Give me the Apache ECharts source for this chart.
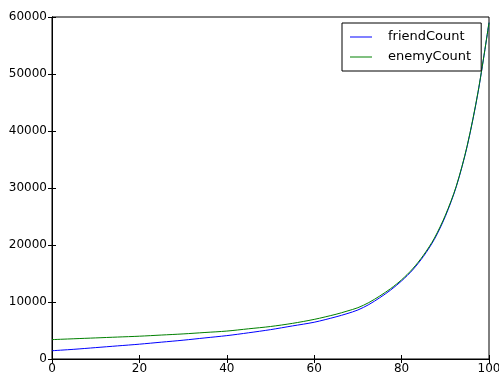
<!DOCTYPE html>
<html>
<head>
<meta charset="utf-8">
<script src="https://cdn.jsdelivr.net/npm/echarts@6/dist/echarts.min.js"></script>
<style>
  html, body { margin: 0; padding: 0; background: #fff; }
  #main { width: 499px; height: 376px; }
</style>
</head>
<body>
<div id="main"></div>
<script>
// values
var xs = [0, 5, 10, 15, 20, 25, 30, 35, 40, 45, 50, 55, 60, 65, 67.5, 70, 72.5, 75, 77.5, 80, 82.5, 85, 87.5, 90, 92.5, 95, 97.5, 100];
var friendCount = [1450, 1700, 2000, 2300, 2600, 2950, 3300, 3700, 4100, 4600, 5150, 5800, 6450, 7400, 7950, 8600, 9550, 10750, 12100, 13700, 15600, 18000, 21000, 25000, 30200, 37300, 46800, 59000];
var enemyCount = [3400, 3550, 3700, 3850, 4000, 4200, 4400, 4650, 4900, 5300, 5700, 6250, 6950, 7850, 8400, 9000, 9900, 11050, 12350, 13900, 15800, 18200, 21200, 25200, 30300, 37400, 46900, 59000];
var seriesNames = ['friendCount', 'enemyCount'];

var chartDom = document.getElementById('main');
var myChart = echarts.init(chartDom);
var option;

function pairs(vals) {
  var out = [];
  for (var i = 0; i < xs.length; i++) {
    out.push([xs[i], vals[i]]);
  }
  return out;
}

var tickFont = { color: '#000', fontSize: 12, fontFamily: 'DejaVu Sans', formatter: function (v) { return String(v); } };

option = {
  animation: false,
  backgroundColor: '#fff',
  grid: {
    left: 52, right: 10, top: 17, bottom: 17,
    outerBoundsMode: 'none',
    containLabel: false,
    show: true, borderColor: '#000', borderWidth: 1
  },
  legend: {
    data: seriesNames,
    orient: 'vertical',
    left: 342, top: 23,
    padding: [7, 10, 7, 8],
    itemGap: 6,
    itemWidth: 22,
    itemHeight: 1,
    icon: 'rect',
    borderColor: '#000',
    borderWidth: 1,
    backgroundColor: '#fff',
    textStyle: { color: '#000', fontSize: 13, fontFamily: 'DejaVu Sans', padding: [0, 0, 0, 11], lineHeight: 14 }
  },
  xAxis: [
    {
      type: 'value', min: 0, max: 100, interval: 20,
      axisLine: { show: true, lineStyle: { color: '#000' } },
      axisTick: { inside: true, length: 4, lineStyle: { color: '#000' } },
      axisLabel: Object.assign({ margin: 4 }, tickFont),
      splitLine: { show: false }
    },
    {
      type: 'value', position: 'top', min: 0, max: 100, interval: 20,
      axisLine: { show: true, lineStyle: { color: '#000' } },
      axisTick: { inside: true, length: 4, lineStyle: { color: '#000' } },
      axisLabel: { show: false },
      splitLine: { show: false }
    }
  ],
  yAxis: [
    {
      type: 'value', min: 0, max: 60000, interval: 10000,
      axisLine: { show: true, lineStyle: { color: '#000' } },
      axisTick: { show: true, inside: true, length: 4, lineStyle: { color: '#000' } },
      axisLabel: Object.assign({ margin: 5 }, tickFont),
      splitLine: { show: false }
    },
    {
      type: 'value', position: 'right', min: 0, max: 60000, interval: 10000,
      axisLine: { show: true, lineStyle: { color: '#000' } },
      axisTick: { show: true, inside: true, length: 4, lineStyle: { color: '#000' } },
      axisLabel: { show: false },
      splitLine: { show: false }
    }
  ],
  series: [
    {
      name: seriesNames[0], type: 'line', data: pairs(friendCount),
      smooth: 0.3, symbol: 'none',
      lineStyle: { color: '#0000ff', width: 1 }, itemStyle: { color: '#0000ff' }
    },
    {
      name: seriesNames[1], type: 'line', data: pairs(enemyCount),
      smooth: 0.3, symbol: 'none',
      lineStyle: { color: '#008000', width: 1 }, itemStyle: { color: '#008000' }
    }
  ]
};

option && myChart.setOption(option);
</script>
</body>
</html>
